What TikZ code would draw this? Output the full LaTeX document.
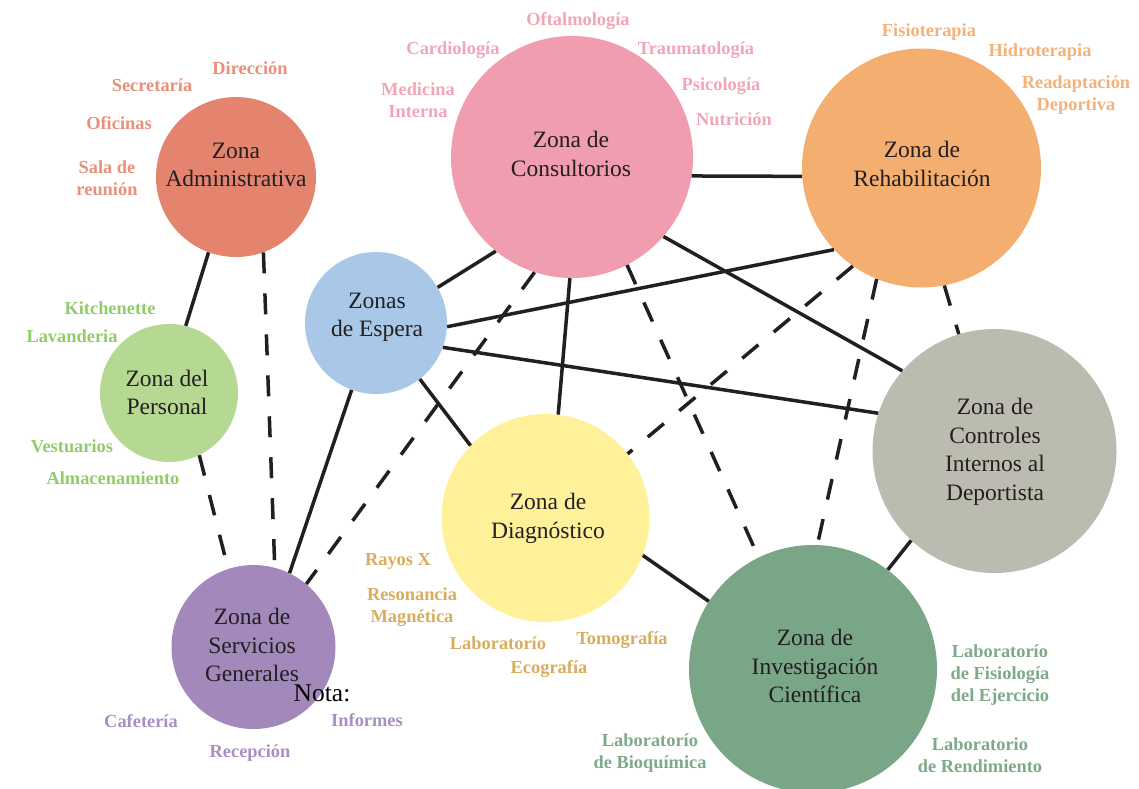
\documentclass[tikz,border=0pt]{standalone}
\usepackage{fontspec}
\setmainfont{Liberation Serif}

% zone fills
\definecolor{ink}{HTML}{231F20}
\definecolor{cAdm}{HTML}{E4846F}
\definecolor{cCon}{HTML}{F09DB0}
\definecolor{cReh}{HTML}{F4AE6F}
\definecolor{cEsp}{HTML}{A9C7E6}
\definecolor{cPer}{HTML}{B5D992}
\definecolor{cDia}{HTML}{FFF09A}
\definecolor{cSer}{HTML}{A389BB}
\definecolor{cInv}{HTML}{7AA688}
\definecolor{cCtl}{HTML}{BBBCAF}
% sub-area label colours
\definecolor{tAdm}{HTML}{E9907A}
\definecolor{tCon}{HTML}{F2A5B7}
\definecolor{tReh}{HTML}{F4B278}
\definecolor{tPer}{HTML}{92CC68}
\definecolor{tDia}{HTML}{D9AC5E}
\definecolor{tSer}{HTML}{A88FC4}
\definecolor{tInv}{HTML}{7DAA89}

\tikzset{
  zone/.style={circle, draw=none, inner sep=0pt},
  lab/.style={align=center, text=ink, inner sep=0pt,
              font=\fontsize{23.5}{28.5}\selectfont},
  sub/.style={align=center, inner sep=0pt, yshift=-1.5pt,
              font=\fontsize{18.4}{22}\selectfont\bfseries},
  link/.style={draw=ink, line width=3.5pt},
  dlink/.style={link, dash pattern=on 21pt off 20pt},
}

\begin{document}
\begin{tikzpicture}[x=1pt,y=-1pt]
\path[use as bounding box] (0,0) rectangle (1139,788);
\clip (0,0) rectangle (1139,788);

% zones
\node[zone, fill=cAdm, minimum size=160pt] (adm) at (236,177) {};
\node[zone, fill=cCon, minimum size=242pt] (con) at (572,157) {};
\node[zone, fill=cReh, minimum size=239pt] (reh) at (921.5,168) {};
\node[zone, fill=cEsp, minimum size=142pt] (esp) at (376,323) {};
\node[zone, fill=cPer, minimum size=138pt] (per) at (169,393) {};
\node[zone, fill=cDia, minimum size=208pt] (dia) at (545.5,518) {};
\node[zone, fill=cSer, minimum size=164pt] (ser) at (253.5,647) {};
\node[zone, fill=cInv, minimum size=248pt] (inv) at (813,669) {};
\node[zone, fill=cCtl, minimum size=244pt] (ctl) at (994.5,451) {};

% relations
\draw[link]  (adm.250) -- (per.76);
\draw[dlink] (adm.290) -- (ser.75);
\draw[dlink] (per.296) -- (ser.108);
\draw[link]  (esp.250) -- (ser.64);
\draw[dlink] (con.252) -- (ser.50);
\draw[link]  (esp.30.5) -- (con.231);
\draw[link]  (esp.357) -- (reh.223.5);
\draw[link]  (esp.340) -- (ctl.162);
\draw[link]  (esp.308) -- (dia.136.4);
\draw[link]  (con.-9.5) -- (reh.184.3);
\draw[link]  (con.269) -- (dia.83.2);
\draw[link]  (con.319.4) -- (ctl.139.5);
\draw[dlink] (con.297.8) -- (inv.116.2);
\draw[dlink] (reh.235.3) -- (dia.38.7);
\draw[dlink] (reh.248.4) -- (inv.88.6);
\draw[dlink] (reh.281.4) -- (ctl.107.5);
\draw[link]  (dia.339) -- (inv.147.7);
\draw[link]  (ctl.227.4) -- (inv.53.2);

% zone names
\node[lab] (adm-t) at (236,165)   {Zona\\Administrativa};
\node[lab] (con-t) at (571,154)   {Zona de\\Consultorios};
\node[lab] (reh-t) at (922,164)   {Zona de\\Rehabilitación};
\node[lab] (esp-t) at (377,317.5) {Zonas\\de Espera};
\node[lab] (per-t) at (167,392.5) {Zona del\\Personal};
\node[lab] (dia-t) at (548,518.5) {Zona de\\Diagnóstico};
\node[lab] (ser-t) at (252,645)   {Zona de\\Servicios\\Generales};
\node[lab] (inv-t) at (815,666)   {Zona de\\Investigación\\Científica};
\node[lab] (ctl-t) at (995,452)   {Zona de\\Controles\\Internos al\\Deportista};

% administrative areas
\node[sub, text=tAdm] (a1) at (250,67)  {Dirección};
\node[sub, text=tAdm] (a2) at (152,84)  {Secretaría};
\node[sub, text=tAdm] (a3) at (119,122) {Oficinas};
\node[sub, text=tAdm] (a4) at (107,177) {Sala de\\reunión};

% consulting rooms
\node[sub, text=tCon] (c1) at (578,20)  {Oftalmología};
\node[sub, text=tCon] (c2) at (453,49)  {Cardiología};
\node[sub, text=tCon] (c3) at (696,49)  {Traumatología};
\node[sub, text=tCon] (c4) at (418,99)  {Medicina\\Interna};
\node[sub, text=tCon] (c5) at (721,85)  {Psicología};
\node[sub, text=tCon] (c6) at (734,118) {Nutrición};

% rehabilitation
\node[sub, text=tReh] (r1) at (929,31)  {Fisioterapia};
\node[sub, text=tReh] (r2) at (1040,51) {Hidroterapia};
\node[sub, text=tReh] (r3) at (1076,94) {Readaptación\\Deportiva};

% staff
\node[sub, text=tPer] (p1) at (110,307) {Kitchenette};
\node[sub, text=tPer] (p2) at (72,335)  {Lavanderia};
\node[sub, text=tPer] (p3) at (72,445)  {Vestuarios};
\node[sub, text=tPer] (p4) at (113,477) {Almacenamiento};

% general services
\node[sub, text=tSer] (s1) at (141,720) {Cafetería};
\node[sub, text=tSer] (s2) at (250,752) {Recepción};
\node[sub, text=tSer] (s3) at (367,719) {Informes};
\node[inner sep=0pt, text=black, font=\fontsize{25.5}{30}\selectfont] (nota) at (322,693) {Nota:};

% diagnosis
\node[sub, text=tDia] (d1) at (398,560) {Rayos X};
\node[sub, text=tDia] (d2) at (412,606) {Resonancia\\Magnética};
\node[sub, text=tDia] (d3) at (498,642) {Laboratorío};
\node[sub, text=tDia] (d4) at (622,639) {Tomografía};
\node[sub, text=tDia] (d5) at (549,668) {Ecografía};

% research
\node[sub, text=tInv] (i1) at (1000,674) {Laboratorío\\de Fisiología\\del Ejercicio};
\node[sub, text=tInv] (i2) at (980,754)  {Laboratorio\\de Rendimiento};
\node[sub, text=tInv] (i3) at (650,752)  {Laboratorío\\de Bioquímica};
\end{tikzpicture}
\end{document}
